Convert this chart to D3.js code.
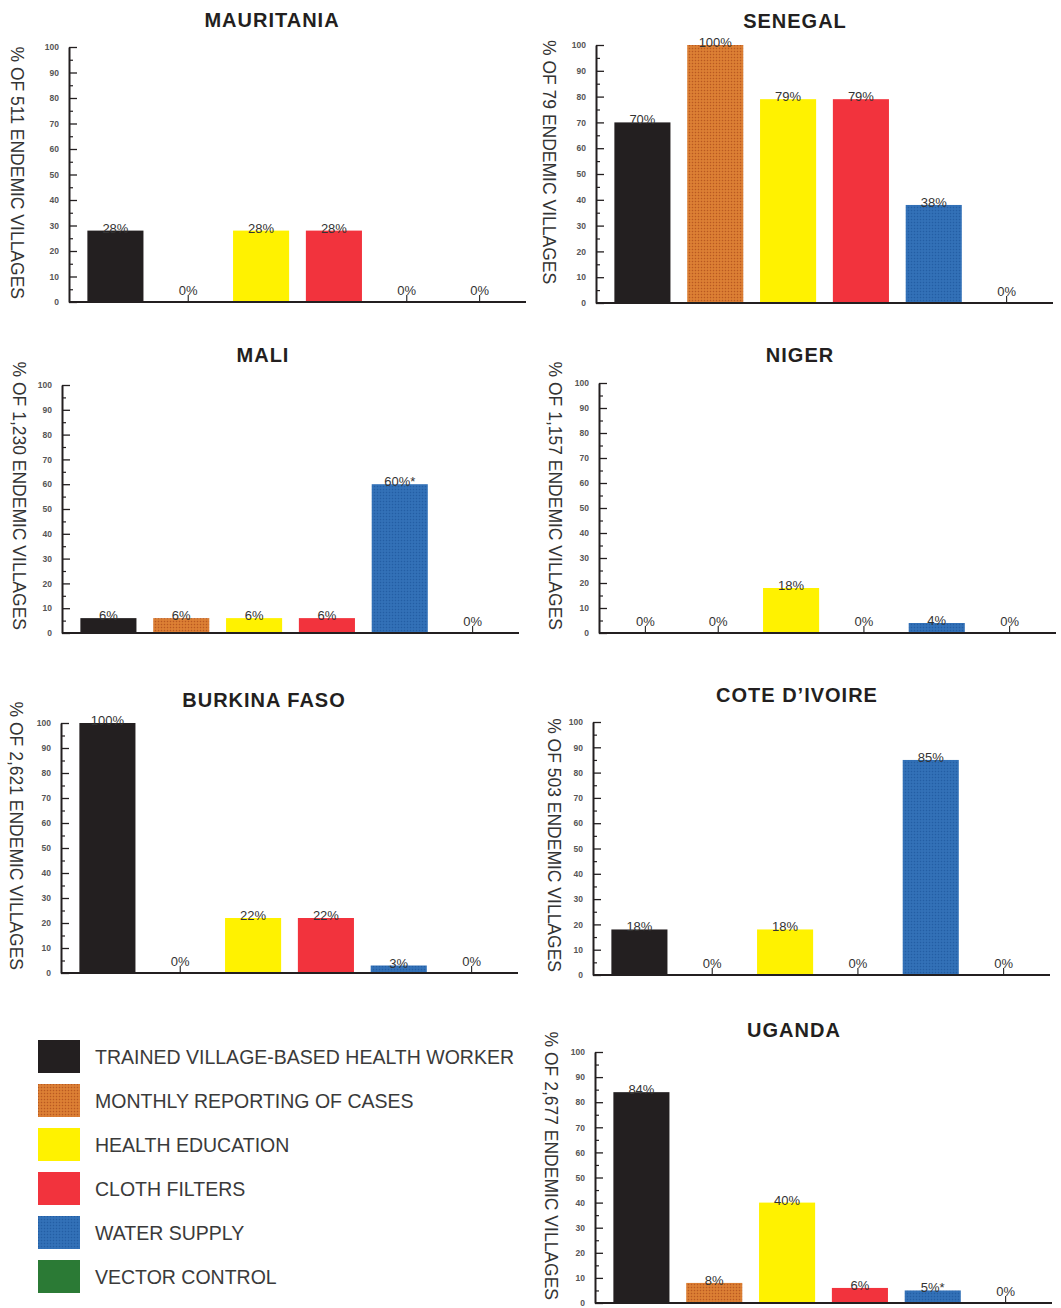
<!DOCTYPE html>
<html>
<head>
<meta charset="utf-8">
<script src="https://cdn.jsdelivr.net/npm/d3@7"></script>
<style>
  html, body { margin: 0; padding: 0; background: #fff; }
  svg { display: block; font-family: "Liberation Sans", Arial, Helvetica, sans-serif; }
</style>
</head>
<body>
<svg id="chart" width="1061" height="1308"></svg>
<script>
// ---------- DATA ----------
const categories = [
  "TRAINED VILLAGE-BASED HEALTH WORKER",
  "MONTHLY REPORTING OF CASES",
  "HEALTH EDUCATION",
  "CLOTH FILTERS",
  "WATER SUPPLY",
  "VECTOR CONTROL"
];
const countries = ["MAURITANIA", "SENEGAL", "MALI", "NIGER", "BURKINA FASO", "COTE D\u2019IVOIRE", "UGANDA"];
const endemicVillages = ["511", "79", "1,230", "1,157", "2,621", "503", "2,677"];

const mauritaniaValues = [28, 0, 28, 28, 0, 0];
const senegalValues    = [70, 100, 79, 79, 38, 0];
const maliValues       = [6, 6, 6, 6, 60, 0];
const nigerValues      = [0, 0, 18, 0, 4, 0];
const burkinaValues    = [100, 0, 22, 22, 3, 0];
const coteValues       = [18, 0, 18, 0, 85, 0];
const ugandaValues     = [84, 8, 40, 6, 5, 0];

const maliNotes   = ["", "", "", "", "*", ""];
const ugandaNotes = ["", "", "", "", "*", ""];
const noNotes     = ["", "", "", "", "", ""];

const yTicksMajor = [0, 10, 20, 30, 40, 50, 60, 70, 80, 90, 100];
const yTicksMinor = [5, 15, 25, 35, 45, 55, 65, 75, 85, 95];

const seriesValues = [mauritaniaValues, senegalValues, maliValues, nigerValues, burkinaValues, coteValues, ugandaValues];
const seriesNotes  = [noNotes, noNotes, maliNotes, noNotes, noNotes, noNotes, ugandaNotes];

// ---------- LAYOUT (panel frames) ----------
const panelLayout = [
  { ax: 69,  top: 47,   base: 302,  titleX: 272, titleY: 27,   labelX: 17,  anchor: "end" },
  { ax: 596, top: 45,   base: 303,  titleX: 795, titleY: 28,   labelX: 549, anchor: "start" },
  { ax: 62,  top: 385,  base: 633,  titleX: 263, titleY: 362,  labelX: 19,  anchor: "end" },
  { ax: 599, top: 383,  base: 633,  titleX: 800, titleY: 362,  labelX: 555, anchor: "end" },
  { ax: 61,  top: 723,  base: 973,  titleX: 264, titleY: 707,  labelX: 16,  anchor: "end" },
  { ax: 593, top: 722,  base: 975,  titleX: 797, titleY: 702,  labelX: 554, anchor: "end" },
  { ax: 595, top: 1052, base: 1303, titleX: 794, titleY: 1037, labelX: 551, anchor: "end" }
];

const colors = ["#231f20", "url(#patOrange)", "#fff200", "#f2333d", "url(#patBlue)", "#2b7a35"];

// ---------- DRAW ----------
const svg = d3.select("#chart");
const defs = svg.append("defs");

function makePattern(id, base, dot1, dot2) {
  const p = defs.append("pattern").attr("id", id)
    .attr("patternUnits", "userSpaceOnUse").attr("width", 3).attr("height", 3);
  p.append("rect").attr("width", 3).attr("height", 3).attr("fill", base);
  p.append("rect").attr("x", 0).attr("y", 0).attr("width", 1).attr("height", 1).attr("fill", dot1);
  p.append("rect").attr("x", 1.5).attr("y", 1.5).attr("width", 1).attr("height", 1).attr("fill", dot2);
}
makePattern("patOrange", "#d7772f", "#b65a22", "#e99a47");
makePattern("patBlue", "#2f6db4", "#245ea3", "#3d7cc2");

const axisLen = 457;

countries.forEach((country, i) => {
  const L = panelLayout[i];
  const values = seriesValues[i];
  const notes = seriesNotes[i];
  const g = svg.append("g").attr("transform", `translate(${L.ax},0)`);

  const x = d3.scaleBand().domain(categories).range([10, 447]).paddingInner(0.23).paddingOuter(0.115);
  const y = d3.scaleLinear().domain([0, 100]).range([L.base, L.top]);

  // title
  svg.append("text")
    .attr("x", L.titleX).attr("y", L.titleY)
    .attr("text-anchor", "middle")
    .attr("font-size", 20).attr("font-weight", "bold")
    .attr("letter-spacing", 1)
    .attr("fill", "#231f20")
    .text(country);

  // y-axis label (rotated)
  const ly = L.anchor === "end" ? L.base - 3 : L.top - 5;
  svg.append("text")
    .attr("transform", `translate(${L.labelX},${ly}) rotate(90)`)
    .attr("text-anchor", L.anchor)
    .attr("dy", "0.35em")
    .attr("font-size", 17.5)
    .attr("fill", "#333")
    .text(`% OF ${endemicVillages[i]} ENDEMIC VILLAGES`);

  // bars
  g.selectAll("rect.bar").data(values).join("rect")
    .attr("class", "bar")
    .attr("x", (d, k) => x(categories[k]))
    .attr("width", x.bandwidth())
    .attr("y", d => y(d))
    .attr("height", d => y(0) - y(d))
    .attr("fill", (d, k) => colors[k]);

  // zero ticks
  g.selectAll("line.zt").data(values.map((v, k) => ({ v, k })).filter(o => o.v === 0)).join("line")
    .attr("class", "zt")
    .attr("x1", o => x(categories[o.k]) + x.bandwidth() / 2)
    .attr("x2", o => x(categories[o.k]) + x.bandwidth() / 2)
    .attr("y1", y(0)).attr("y2", y(0) - 7)
    .attr("stroke", "#333").attr("stroke-width", 1.2);

  // value labels
  g.selectAll("text.val").data(values).join("text")
    .attr("class", "val")
    .attr("x", (d, k) => x(categories[k]) + x.bandwidth() / 2)
    .attr("y", d => d === 0 ? y(0) - 7 : y(d) + 2)
    .attr("text-anchor", "middle")
    .attr("font-size", 13)
    .attr("fill", "#333")
    .text((d, k) => d + "%" + notes[k]);

  // y axis (major)
  const yAxis = d3.axisLeft(y).tickValues(yTicksMajor).tickSize(-8).tickSizeOuter(0).tickPadding(10)
    .tickFormat(d3.format("d"));
  const ya = g.append("g").call(yAxis);
  ya.select(".domain").attr("stroke", "#231f20").attr("stroke-width", 2);
  ya.selectAll(".tick line").attr("stroke", "#231f20").attr("stroke-width", 1.3);
  ya.selectAll(".tick text").attr("font-size", 8.5).attr("font-weight", "bold").attr("fill", "#555")
    .attr("font-family", "'Liberation Sans', Arial, sans-serif");

  // y axis (minor)
  const yMinor = d3.axisLeft(y).tickValues(yTicksMinor).tickSize(-4).tickSizeOuter(0).tickFormat("");
  const ym = g.append("g").call(yMinor);
  ym.select(".domain").remove();
  ym.selectAll(".tick line").attr("stroke", "#231f20").attr("stroke-width", 1.2);

  // x axis baseline
  g.append("line")
    .attr("x1", 0).attr("x2", axisLen)
    .attr("y1", y(0)).attr("y2", y(0))
    .attr("stroke", "#231f20").attr("stroke-width", 2);
});

// ---------- LEGEND ----------
const legend = svg.append("g").attr("transform", "translate(38,1040)");
const legendRow = d3.scalePoint().domain(categories).range([0, 220]);
const lg = legend.selectAll("g").data(categories).join("g")
  .attr("transform", d => `translate(0,${legendRow(d)})`);
lg.append("rect").attr("width", 42).attr("height", 33)
  .attr("fill", (d, k) => colors[k]);
lg.append("text").attr("x", 57).attr("y", 17).attr("dy", "0.35em")
  .attr("font-size", 19.5).attr("fill", "#3a3a3a")
  .text(d => d);
</script>
</body>
</html>
